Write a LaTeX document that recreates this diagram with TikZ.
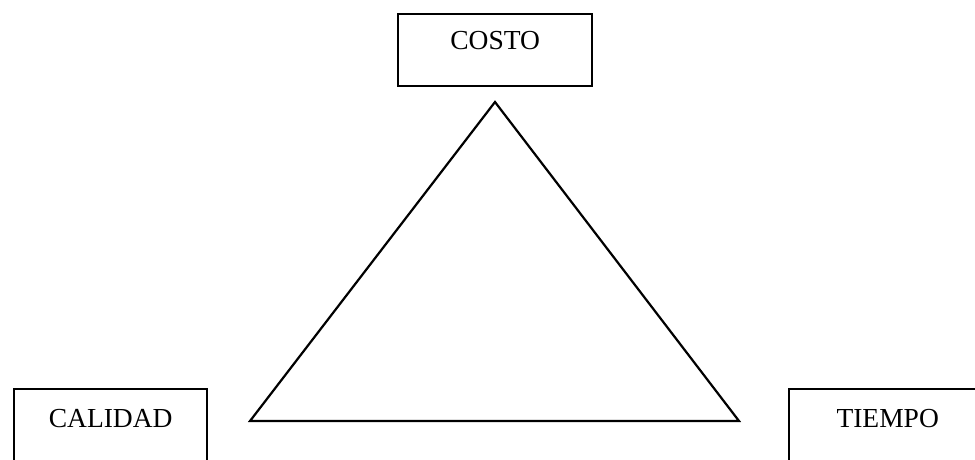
\documentclass[tikz,border=0pt]{standalone}
\usepackage{fontspec}
\setmainfont{Liberation Serif}
\begin{document}
\begin{tikzpicture}[x=1pt,y=-1pt,
  box/.style={draw=black, line width=2.4pt, inner sep=0pt, align=center,
    font=\fontsize{27.5}{30}\selectfont},
  tri/.style={draw=black, line width=2.2pt, line join=miter}]
\useasboundingbox (0,0) rectangle (975,459);
\clip (0,0) rectangle (975,459);
% boxes (text baseline set by text height/depth)
\node[box, minimum width=194pt, text height=35pt, text depth=37pt, anchor=north west] (costo) at (397,13) {COSTO};
\node[box, minimum width=193pt, text height=38pt, text depth=50pt, anchor=north west] (calidad) at (13,388) {CALIDAD};
\node[box, minimum width=197pt, text height=38pt, text depth=50pt, anchor=north west] (tiempo) at (788,388) {TIEMPO};
% triangle
\coordinate (apex) at (495,102);
\coordinate (bl) at (250,421);
\coordinate (br) at (739,421);
\draw[tri] (apex) -- (bl) -- (br) -- cycle;
\end{tikzpicture}
\end{document}
